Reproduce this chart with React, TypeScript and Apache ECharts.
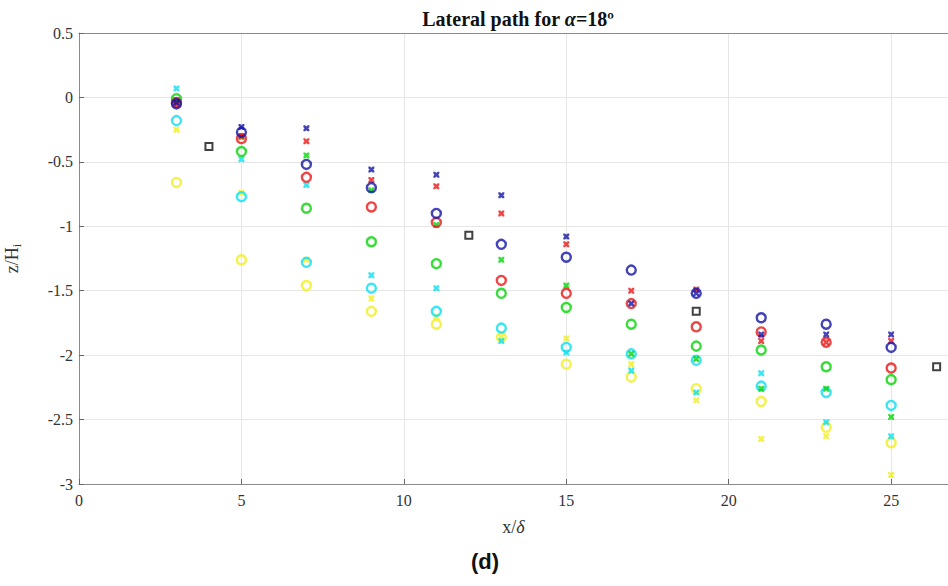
import React, { useEffect, useRef } from "react";
import * as echarts from "echarts";

const xs = [3, 5, 7, 9, 11, 13, 15, 17, 19, 21, 23, 25];

const blueCircle = [-0.05, -0.27, -0.52, -0.7, -0.9, -1.14, -1.24, -1.34, -1.52, -1.71, -1.76, -1.94];
const redCircle = [-0.04, -0.32, -0.62, -0.85, -0.97, -1.42, -1.52, -1.6, -1.78, -1.82, -1.9, -2.1];
const greenCircle = [-0.01, -0.42, -0.86, -1.12, -1.29, -1.52, -1.63, -1.76, -1.93, -1.96, -2.09, -2.19];
const cyanCircle = [-0.18, -0.77, -1.28, -1.48, -1.66, -1.79, -1.94, -1.99, -2.04, -2.24, -2.29, -2.39];
const yellowCircle = [-0.66, -1.26, -1.46, -1.66, -1.76, -1.86, -2.07, -2.17, -2.26, -2.36, -2.56, -2.68];

const blueX = [-0.04, -0.23, -0.24, -0.56, -0.6, -0.76, -1.08, -1.6, -1.52, -1.84, -1.84, -1.84];
const redX = [-0.05, -0.3, -0.34, -0.64, -0.69, -0.9, -1.14, -1.5, -1.49, -1.89, -1.9, -1.89];
const greenX = [-0.02, -0.31, -0.45, -0.72, -0.99, -1.26, -1.46, -1.99, -2.03, -2.26, -2.26, -2.48];
const cyanX = [0.07, -0.48, -0.68, -1.38, -1.48, -1.89, -1.98, -2.12, -2.29, -2.14, -2.52, -2.63];
const yellowX = [-0.25, -0.74, -1.26, -1.56, -1.7, -1.86, -1.87, -2.07, -2.35, -2.65, -2.63, -2.93];

const blackSqX = [4, 12, 19, 26.4];
const blackSqY = [-0.38, -1.07, -1.66, -2.09];

const xTicks = [0, 5, 10, 15, 20, 25];

const BLUE = "#1414a8";
const RED = "#e81818";
const GREEN = "#08d408";
const CYAN = "#08e0f0";
const YELLOW = "#f2ee1e";

const SERIF = "'Liberation Serif', 'DejaVu Serif', serif";
const CROSS = "path://M0,0h3l2,2l2,-2h3v3l-2,2l2,2v3h-3l-2,-2l-2,2h-3v-3l2,-2l-2,-2z";

function pairs(x: number[], y: number[]) {
  return x.map((v, i) => [v, y[i]]);
}

function circleSeries(name: string, ys: number[], color: string) {
  return {
    name,
    type: "scatter",
    data: pairs(xs, ys),
    symbol: "circle",
    symbolSize: 9,
    itemStyle: { color: "rgba(0,0,0,0)", borderColor: color, borderWidth: 2.4 },
  };
}

function crossSeries(name: string, ys: number[], color: string) {
  return {
    name,
    type: "scatter",
    data: pairs(xs, ys),
    symbol: CROSS,
    symbolSize: 6,
    itemStyle: { color },
  };
}

export default function App() {
  const ref = useRef<HTMLDivElement>(null);
  useEffect(() => {
    if (!ref.current) return;
    const chart = echarts.init(ref.current, undefined, { renderer: "svg" });
    chart.setOption({
      animation: false,
      backgroundColor: "#ffffff",
      title: {
        text: "{b|Lateral path for }{i|α}{b|=18º}",
        left: 513,
        top: 4,
        textAlign: "center",
        textStyle: {
          rich: {
            b: { fontFamily: SERIF, fontWeight: "bold", fontSize: 20, color: "#111" },
            i: { fontFamily: SERIF, fontStyle: "italic", fontSize: 20, color: "#111" },
          },
        },
      },
      grid: { left: 79, top: 33, right: 0, bottom: 102, containLabel: false, outerBoundsMode: "none" },
      xAxis: [
        {
          type: "value",
          min: 0,
          max: 26.75,
          interval: 5,
          name: "{t|x/}{i|δ}",
          nameLocation: "middle",
          nameGap: 34,
          nameTextStyle: {
            rich: {
              t: { fontFamily: SERIF, fontSize: 18, color: "#333" },
              i: { fontFamily: SERIF, fontSize: 18, fontStyle: "italic", color: "#333" },
            },
          },
          axisLine: { show: true, onZero: false, lineStyle: { color: "#8a8a8a", width: 1 } },
          axisTick: { show: true, inside: true, length: 5, lineStyle: { color: "#666" } },
          axisLabel: {
            fontFamily: SERIF,
            fontSize: 16,
            color: "#333",
            margin: 8,
            formatter: (v: number) => (xTicks.indexOf(v) >= 0 ? String(v) : ""),
          },
          splitLine: { show: true, lineStyle: { color: "#e6e6e6", width: 1 } },
        },
        {
          type: "value",
          position: "top",
          min: 0,
          max: 26.75,
          interval: 5,
          axisLine: { show: true, onZero: false, lineStyle: { color: "#8a8a8a", width: 1 } },
          axisTick: { show: false },
          axisLabel: { show: false },
          splitLine: { show: false },
        },
      ],
      yAxis: {
        type: "value",
        min: -3,
        max: 0.5,
        interval: 0.5,
        name: "{n|z/H}{s|i}",
        nameLocation: "middle",
        nameRotate: 90,
        nameGap: 56,
        nameTextStyle: {
          rich: {
            n: { fontFamily: SERIF, fontSize: 18, color: "#333", lineHeight: 22 },
            s: { fontFamily: SERIF, fontSize: 12, color: "#333", verticalAlign: "bottom", lineHeight: 14 },
          },
        },
        axisLine: { show: true, onZero: false, lineStyle: { color: "#8a8a8a", width: 1 } },
        axisTick: { show: true, inside: true, length: 5, lineStyle: { color: "#666" } },
        axisLabel: { fontFamily: SERIF, fontSize: 16, color: "#333", margin: 6 },
        splitLine: { show: true, lineStyle: { color: "#e6e6e6", width: 1 } },
      },
      graphic: [
        {
          type: "text",
          left: 471,
          top: 550,
          style: {
            text: "(d)",
            font: "bold 22px 'Liberation Sans', 'DejaVu Sans', sans-serif",
            fill: "#111",
          },
        },
      ],
      series: [
        crossSeries("yellow x", yellowX, YELLOW),
        circleSeries("yellow o", yellowCircle, YELLOW),
        crossSeries("cyan x", cyanX, CYAN),
        circleSeries("cyan o", cyanCircle, CYAN),
        circleSeries("green o", greenCircle, GREEN),
        crossSeries("green x", greenX, GREEN),
        circleSeries("red o", redCircle, RED),
        crossSeries("red x", redX, RED),
        circleSeries("blue o", blueCircle, BLUE),
        crossSeries("blue x", blueX, BLUE),
        {
          name: "black",
          type: "scatter",
          data: pairs(blackSqX, blackSqY),
          symbol: "rect",
          symbolSize: 7,
          itemStyle: { color: "rgba(0,0,0,0)", borderColor: "#111", borderWidth: 2 },
        },
      ],
    });
    return () => chart.dispose();
  }, []);
  return (
    <div
      ref={ref}
      style={{ position: "fixed", left: 0, top: 0, width: 948, height: 586 }}
    />
  );
}
